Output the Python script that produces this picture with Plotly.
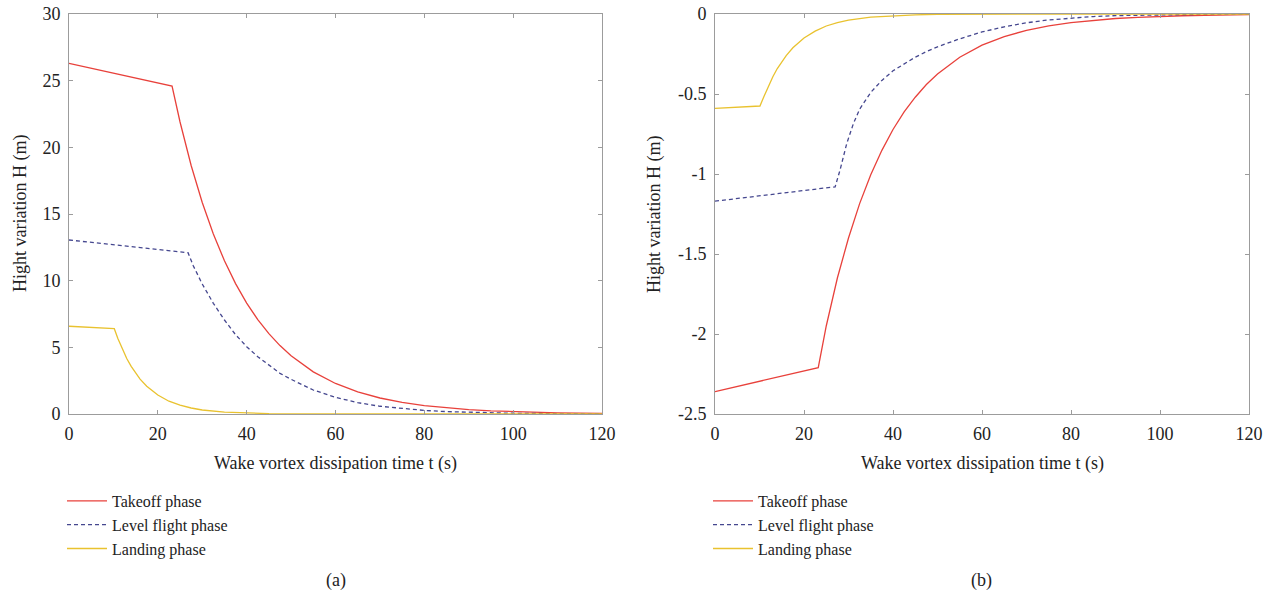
import plotly.graph_objects as go

# ---------------- data ----------------
# (a) left panel
t_takeoff_a = [0, 23.2, 25, 27.5, 30, 32.5, 35, 37.5, 40, 42.5, 45, 47.5, 50, 55, 60, 65,
               70, 75, 80, 85, 90, 95, 100, 105, 110, 115, 120]
h_takeoff_a = [26.3, 24.6, 21.90, 18.64, 15.86, 13.50, 11.49, 9.78, 8.32, 7.08, 6.03, 5.13,
               4.37, 3.16, 2.29, 1.66, 1.20, 0.87, 0.63, 0.457, 0.331, 0.240, 0.173, 0.126,
               0.091, 0.066, 0.048]

t_level_a = [0, 26.8, 28, 30, 32.5, 35, 37.5, 40, 42.5, 45, 47.5, 50, 55, 60, 65, 70, 75,
             80, 85, 90, 95, 100, 110, 120]
h_level_a = [13.05, 12.1, 11.1, 9.75, 8.3, 7.05, 5.95, 5.05, 4.3, 3.65, 3.05, 2.6, 1.8, 1.25,
             0.85, 0.58, 0.4, 0.27, 0.18, 0.12, 0.08, 0.055, 0.025, 0.01]

t_landing_a = [0, 10.2, 11, 12, 13, 14, 15, 16, 17.5, 19, 20, 22.5, 25, 27.5, 30, 35, 40,
               45, 50, 60, 70, 80, 100, 120]
h_landing_a = [6.58, 6.4, 5.66, 4.85, 4.16, 3.57, 3.06, 2.62, 2.08, 1.65, 1.42, 0.96, 0.66,
               0.45, 0.30, 0.141, 0.065, 0.030, 0.014, 0.003, 0.001, 0.0, 0.0, 0.0]

# (b) right panel
t_takeoff_b = [0, 23.2, 25, 27.5, 30, 32.5, 35, 37.5, 40, 42.5, 45, 47.5, 50, 55, 60, 65,
               70, 75, 80, 85, 90, 95, 100, 105, 110, 115, 120]
h_takeoff_b = [-2.36, -2.21, -1.950, -1.650, -1.400, -1.185, -1.005, -0.852, -0.722, -0.612,
               -0.520, -0.441, -0.375, -0.270, -0.195, -0.141, -0.102, -0.074, -0.054,
               -0.039, -0.028, -0.021, -0.015, -0.011, -0.008, -0.006, -0.004]

t_level_b = [0, 27, 28.1, 29.6, 31.1, 32.5, 35, 37.5, 40, 42.5, 45, 47.5, 50, 55, 60, 65,
             70, 75, 80, 85, 90, 100, 110, 120]
h_level_b = [-1.17, -1.08, -0.975, -0.81, -0.685, -0.595, -0.49, -0.415, -0.355, -0.31,
             -0.27, -0.235, -0.205, -0.155, -0.112, -0.08, -0.055, -0.037, -0.025, -0.016,
             -0.01, -0.004, -0.002, -0.001]

t_landing_b = [0, 10.1, 11, 12, 13, 14, 15, 16, 17.5, 19, 20, 22.5, 25, 27.5, 30, 35, 40,
               45, 50, 60, 70, 80, 100, 120]
h_landing_b = [-0.59, -0.575, -0.515, -0.449, -0.392, -0.341, -0.298, -0.260, -0.211,
               -0.172, -0.150, -0.107, -0.075, -0.054, -0.038, -0.019, -0.010, -0.005,
               -0.002, -0.001, 0.0, 0.0, 0.0, 0.0]

names = ["Takeoff phase", "Level flight phase", "Landing phase"]
x_ticks = [0, 20, 40, 60, 80, 100, 120]
y_ticks_a = [0, 5, 10, 15, 20, 25, 30]
y_ticks_b = [0, -0.5, -1, -1.5, -2, -2.5]
y_ticktext_b = ["0", "-0.5", "-1", "-1.5", "-2", "-2.5"]
x_title = "Wake vortex dissipation time t (s)"
y_title = "Hight variation H (m)"
panel_labels = ["(a)", "(b)"]

# ---------------- styling ----------------
W, H = 1270, 598
FONT = "Liberation Serif, Times New Roman, serif"
TXT = "#222222"
RED = "#e8413b"
BLUE = "#45478f"
YELLOW = "#e9c22f"
AXC = "#9c9c9c"
FS = 18

fig = go.Figure()

styles = [dict(color=RED, width=1.3),
          dict(color=BLUE, width=1.3, dash="4px,3px"),
          dict(color=YELLOW, width=1.3)]

for (tx, hy), nm, st in zip([(t_takeoff_a, h_takeoff_a), (t_level_a, h_level_a),
                              (t_landing_a, h_landing_a)], names, styles):
    fig.add_trace(go.Scatter(x=tx, y=hy, mode="lines", name=nm, line=st,
                             xaxis="x", yaxis="y", legend="legend"))

for (tx, hy), nm, st in zip([(t_takeoff_b, h_takeoff_b), (t_level_b, h_level_b),
                              (t_landing_b, h_landing_b)], names, styles):
    fig.add_trace(go.Scatter(x=tx, y=hy, mode="lines", name=nm, line=st,
                             xaxis="x2", yaxis="y2", legend="legend2"))

y0 = 1 - 414 / H
y1 = 1 - 14 / H
xa_dom = [69 / W, 602 / W]
xb_dom = [715 / W, 1249 / W]

common_axis = dict(showgrid=False, zeroline=False, showline=True, linecolor=AXC,
                   linewidth=1, mirror="ticks", ticks="inside", ticklen=4,
                   tickcolor=AXC, tickwidth=1, automargin=False,
                   tickfont=dict(family=FONT, size=FS, color=TXT))

def ann(text, x, y, angle=0):
    return dict(text=text, x=x, y=y, xref="paper", yref="paper", showarrow=False,
                xanchor="center", yanchor="middle", textangle=angle,
                font=dict(family=FONT, size=FS, color=TXT))

annotations = [
    ann(x_title, sum(xa_dom) / 2, 1 - 463 / H),
    ann(x_title, sum(xb_dom) / 2, 1 - 463 / H),
    ann(y_title, 20 / W, (y0 + y1) / 2, -90),
    ann(y_title, 654 / W, (y0 + y1) / 2, -90),
    ann(panel_labels[0], 336 / W, 1 - 580 / H),
    ann(panel_labels[1], 981 / W, 1 - 580 / H),
]

legend_style = dict(xanchor="left", yanchor="top", bgcolor="rgba(0,0,0,0)",
                    font=dict(family=FONT, size=16, color=TXT),
                    tracegroupgap=0, itemwidth=40)

fig.update_layout(
    width=W, height=H,
    margin=dict(l=0, r=0, t=0, b=0, autoexpand=False),
    paper_bgcolor="white", plot_bgcolor="white",
    font=dict(family=FONT, size=FS, color=TXT),
    xaxis=dict(domain=xa_dom, range=[0, 120], tickvals=x_ticks, anchor="y",
               ticklabelstandoff=3, **common_axis),
    yaxis=dict(domain=[y0, y1], range=[0, 30], tickvals=y_ticks_a, anchor="x",
               ticklabelstandoff=4, **common_axis),
    xaxis2=dict(domain=xb_dom, range=[0, 120], tickvals=x_ticks, anchor="y2",
                ticklabelstandoff=3, **common_axis),
    yaxis2=dict(domain=[y0, y1], range=[-2.5, 0], tickvals=y_ticks_b,
                ticktext=y_ticktext_b, anchor="x2", ticklabelstandoff=4,
                **common_axis),
    legend=dict(x=62 / W, y=1 - 484 / H, **legend_style),
    legend2=dict(x=708 / W, y=1 - 484 / H, **legend_style),
    showlegend=True,
    annotations=annotations,
)

fig.write_html("out.html")
